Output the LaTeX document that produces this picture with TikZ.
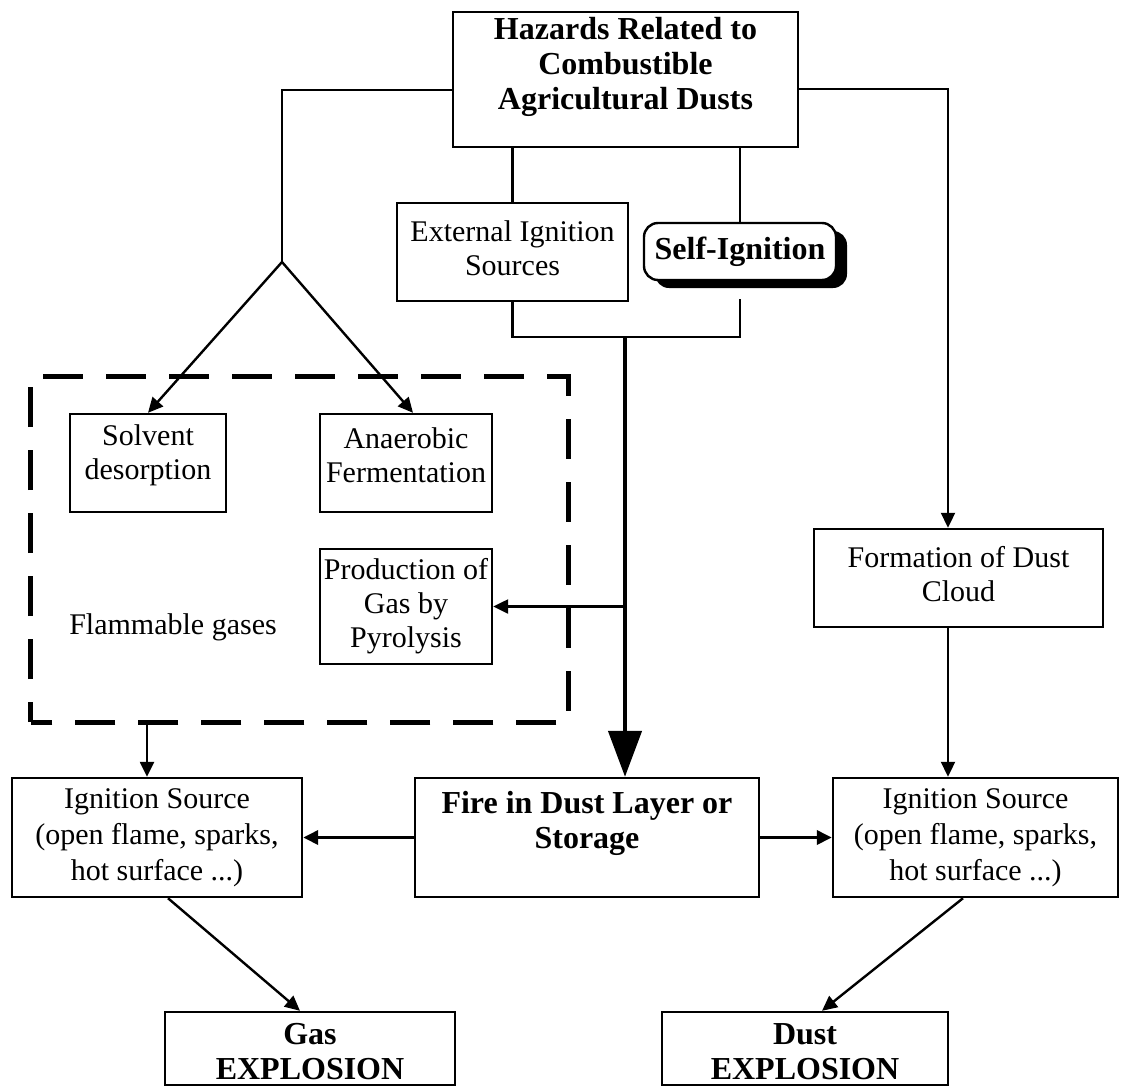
\documentclass[tikz,border=0pt]{standalone}
\usepackage{fontspec}
\setmainfont{Liberation Serif}
\usetikzlibrary{arrows.meta}
\begin{document}
\begin{tikzpicture}[x=1pt,y=-1pt,
  box/.style={draw, line width=2.4pt, inner sep=0pt},
  nt/.style={font=\fontsize{30}{34}\selectfont, align=center, inner sep=0pt},
  ntw/.style={font=\fontsize{30}{36}\selectfont, align=center, inner sep=0pt},
  btx/.style={font=\fontsize{32}{35}\selectfont\bfseries, align=center, inner sep=0pt},
  conn/.style={line width=2.4pt},
  arr/.style={line width=2.4pt, -{Triangle[length=15pt,width=14pt]}},
]
\useasboundingbox (0,0) rectangle (1121,1087);

% top box
\node[box, minimum width=345pt, minimum height=135pt] (top) at (625.5,79.5) {};
\node[btx] (topT) at (625.5,67) {Hazards Related to\\Combustible\\Agricultural Dusts};

% external ignition
\node[box, minimum width=231pt, minimum height=98pt] (ext) at (512.5,252) {};
\node[nt] (extT) at (512.5,248) {External Ignition\\Sources};

% self ignition with shadow
\node[fill=black, rounded corners=14pt, minimum width=192pt, minimum height=57pt, inner sep=0pt] (selfS) at (751,259.5) {};
\node[draw, line width=2.4pt, fill=white, rounded corners=14pt, minimum width=192pt, minimum height=57pt, inner sep=0pt, btx] (self) at (740,251.5) {Self-Ignition};

% dashed frame
\node[minimum width=537pt, minimum height=345pt, inner sep=0pt] (fl) at (299.5,549.5) {};
\draw[line width=5pt, dash pattern=on 40pt off 23pt, dash phase=20pt, line join=miter]
  (fl.south west) -- (fl.north west) -- (fl.north east) -- (fl.south east) -- cycle;
\node[nt] (flT) at (173,627) {Flammable gases};

% inner boxes
\node[box, minimum width=156pt, minimum height=98pt] (solv) at (148,463) {};
\node[nt] (solvT) at (148,455) {Solvent\\desorption};
\node[box, minimum width=172pt, minimum height=98pt] (anae) at (406,463) {};
\node[nt] (anaeT) at (406,455) {Anaerobic\\Fermentation};
\node[box, minimum width=172pt, minimum height=115pt, nt] (pyro) at (406,606.5) {Production of\\Gas by\\Pyrolysis};

% formation
\node[box, minimum width=289pt, minimum height=98pt] (form) at (958.5,578) {};
\node[nt] (formT) at (958.5,574) {Formation of Dust\\Cloud};

% bottom row
\node[box, minimum width=290pt, minimum height=119pt, ntw] (lign) at (157,837.5) {Ignition Source\\(open flame, sparks,\\hot surface ...)};
\node[box, minimum width=344pt, minimum height=119pt] (fire) at (587,837.5) {};
\node[btx] (fireT) at (587,823) {Fire in Dust Layer or\\Storage};
\node[box, minimum width=285pt, minimum height=119pt, ntw] (rign) at (975.5,837.5) {Ignition Source\\(open flame, sparks,\\hot surface ...)};

% explosions
\node[box, minimum width=290pt, minimum height=73pt] (gas) at (310,1048.5) {};
\node[btx] (gasT) at (310,1052) {Gas\\EXPLOSION};
\node[box, minimum width=286pt, minimum height=73pt] (dust) at (805,1048.5) {};
\node[btx] (dustT) at (805,1052) {Dust\\EXPLOSION};

% connectors
\coordinate (apex) at (282,262);
\coordinate (j) at (625,337);
\draw[conn] ([yshift=-10.5pt]top.west) -| (apex);
\draw[arr] (apex) -- (solv.north);
\draw[arr] (apex) -- ([xshift=7pt]anae.north);
\draw[arr, line width=2pt] ([yshift=-9.5pt]top.east) -| ([xshift=-10.5pt]form.north);
\draw[conn] (top.south -| ext.north) -- (ext.north);
\draw[conn] (top.south -| self.north) -- (self.north);
\draw[conn] (ext.south) -- (ext.south |- j) -- (self.south |- j) -- ([yshift=-18pt]self.south);
\draw[line width=4.5pt, -{Triangle[length=46pt,width=33pt]}] (j) -- (j |- fire.north);
\draw[arr] (j |- pyro.east) -- (pyro.east);
\draw[arr] ([xshift=-10pt]lign.north |- fl.south) -- ([xshift=-10pt]lign.north);
\draw[arr, line width=2pt] ([xshift=-10.5pt]form.south) -- ([xshift=-10.5pt]form.south |- rign.north);
\draw[arr, line width=3.5pt] (fire.west) -- (lign.east);
\draw[arr, line width=3.5pt] (fire.east) -- (rign.west);
\draw[arr] ([xshift=11pt]lign.south) -- ([xshift=-10pt]gas.north);
\draw[arr] ([xshift=-12.5pt]rign.south) -- ([xshift=17pt]dust.north);
\end{tikzpicture}
\end{document}
